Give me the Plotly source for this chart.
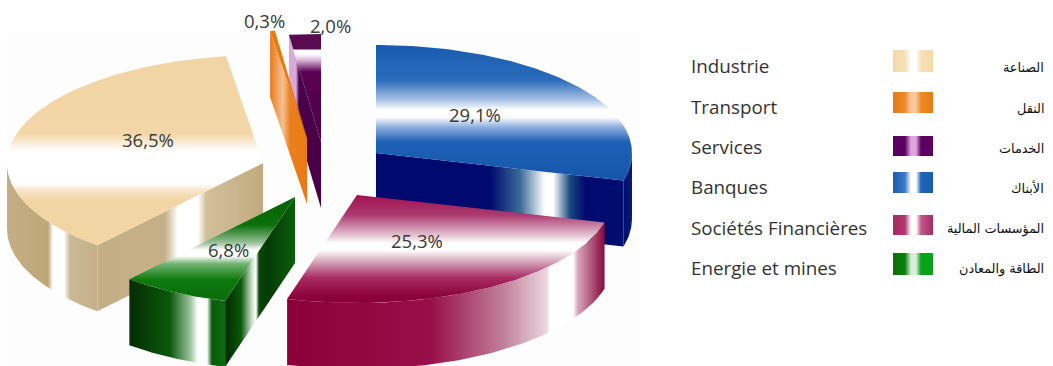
import numpy as np
import plotly.graph_objects as go

# ---- data -------------------------------------------------------------
categories = ["Industrie", "Transport", "Services", "Banques",
              "Sociétés Financières", "Energie et mines"]
categories_ar = ["الصناعة", "النقل", "الخدمات", "الأبناك",
                 "المؤسسات المالية", "الطاقة والمعادن"]
values = [36.5, 0.3, 2.0, 29.1, 25.3, 6.8]

# ---- geometry / style (not data) --------------------------------------
RX, RY, H = 256, 108, 66
FONT = "Open Sans, Noto Sans, sans-serif"
W, HT = 1053, 366
ROT = -(values[1] + values[2] + values[0]) * 3.6   # Industrie's start angle

apex = {"Industrie": (263, 163), "Transport": (307, 138), "Services": (321, 142),
        "Banques": (376, 153), "Sociétés Financières": (357, 195), "Energie et mines": (295, 197)}

TOP = {
    "Industrie": [(57, "#f2d5a5"), (134, "#f3d7a8"), (148, "#fdf8f0"), (153, "#ffffff"), (184, "#ffffff"),
                  (190, "#f7e6cc"), (200, "#f2d5a5"), (300, "#f2d5a5")],
    "Transport": [(30, "#e87a10"), (140, "#e87a10")],
    "Services": [(34, "#5a0a50"), (49, "#5a0a50"), (50, "#ffffff"), (54, "#ffffff"), (60, "#d9b8d9"),
                 (72, "#5a0050"), (142, "#4a0048")],
    "Banques": [(47, "#1a5db0"), (80, "#2a6bbb"), (100, "#a9c3e6"), (110, "#ffffff"), (117, "#ffffff"),
                (127, "#8fb0de"), (142, "#1d60b5"), (185, "#1555a8")],
    "Sociétés Financières": [(195, "#a3104f"), (215, "#ab3b70"), (236, "#e6c7d4"), (243, "#ffffff"), (250, "#ffffff"),
                             (258, "#e2c2d0"), (278, "#a82a62"), (298, "#8a0038")],
    "Energie et mines": [(197, "#056005"), (225, "#0a700a"), (243, "#9cc29c"), (250, "#ffffff"), (256, "#ffffff"),
                         (264, "#70b070"), (280, "#0d7a0d"), (300, "#0a6e0a")],
}
WALL = {
    "Industrie": [(5, "#c4ae85"), (48, "#bda676"), (53, "#ffffff"), (64, "#ffffff"), (70, "#c9b998"),
                  (100, "#c4ae85"), (165, "#c4b088"), (178, "#ffffff"), (198, "#ffffff"), (206, "#d2c09c"),
                  (265, "#c0a97d")],
    "Banques": [(376, "#000a6e"), (490, "#000a6e"), (520, "#3a6a96"), (540, "#d8e4ec"), (545, "#ffffff"),
                (553, "#ffffff"), (570, "#1a4a80"), (585, "#000a6e"), (625, "#000f70"), (640, "#0a2a80")],
    "Sociétés Financières": [(285, "#8a0038"), (430, "#980e48"), (503, "#c07f9a"), (547, "#ecd8e0"), (550, "#ffffff"),
                             (573, "#ffffff"), (578, "#d9a6bc"), (603, "#8b1040")],
    "Energie et mines": [(130, "#042d04"), (170, "#0a5a0a"), (190, "#9ac09a"), (198, "#ffffff"), (207, "#ffffff"),
                         (212, "#0a5a0a"), (227, "#0b6f0b")],
}
FACE = {
    "Industrie": WALL["Industrie"],
    "Transport": [(270, "#e87a10"), (277, "#f0a060"), (283, "#f5c090"), (290, "#ea8020"), (308, "#e87a10")],
    "Services": [(289, "#d9a9d9"), (296, "#d9a9d9"), (299, "#4a0048"), (322, "#4a0048")],
    "Banques": WALL["Banques"],
    "Energie et mines": [(227, "#042d04"), (241, "#0a5a0a"), (252, "#cfe2cf"), (256, "#ffffff"), (259, "#0a4a0a"),
                         (268, "#043a04"), (296, "#0b600b")],
}
SWATCH = {
    "Industrie": ["#f5d9a8", "#f7dfb8", "#ffffff", "#ffffff", "#f7dfb8", "#f5d9a8"],
    "Transport": ["#e87a10", "#ec8a28", "#f6c89c", "#f6c89c", "#ec8a28", "#e87a10"],
    "Services": ["#5a0060", "#5a0060", "#dca8dc", "#dca8dc", "#5a0060", "#5a0060"],
    "Banques": ["#1a5db0", "#3a7ac6", "#ffffff", "#ffffff", "#1d65bb", "#1a5db0"],
    "Sociétés Financières": ["#a82a62", "#b0386e", "#ffffff", "#ffffff", "#c05a88", "#a82a62"],
    "Energie et mines": ["#0a700a", "#0a800a", "#d8ecd8", "#d8ecd8", "#0aa01a", "#0aa01a"],
}
LABEL_POS = [(148, 139), (264, 20), (330, 25), (475, 114), (417, 240), (228, 249)]
ROW_Y = [66, 107, 147, 187, 228, 268]
SWATCH_Y = [(50, 72), (92, 113), (136, 156), (172, 193), (215, 235), (253, 275)]


def scale(stops):
    lo, hi = stops[0][0], stops[-1][0]
    return lo, hi, [[(p - lo) / (hi - lo), c] for p, c in stops]


def poly(xs, ys, stops, kind):
    lo, hi, cs = scale(stops)
    return go.Scatter(x=list(xs), y=list(ys), mode="lines", line=dict(width=0), fill="toself",
                      fillgradient=dict(type=kind, start=lo, stop=hi, colorscale=cs),
                      hoverinfo="skip", showlegend=False)


def pt(c, t):
    r = np.radians(t)
    return c[0] + RX * np.sin(r), c[1] - RY * np.cos(r)


fig = go.Figure()

# angular spans from the values (clockwise from 12 o'clock)
spans = {}
for i, n in enumerate(categories):
    a = (360 + ROT + sum(values[:i]) * 3.6) % 360
    spans[n] = (a, a + values[i] * 3.6)

for n in ["Services", "Transport", "Banques", "Sociétés Financières", "Industrie", "Energie et mines"]:
    c = apex[n]
    a, b = spans[n]
    # outer wall (the part turned to the viewer)
    lo, hi = max(a, 90), min(b, 270)
    if n in WALL and hi > lo:
        t = np.linspace(lo, hi, 80)
        x, y = pt(c, t)
        fig.add_trace(poly(np.r_[x, x[::-1], x[0]], np.r_[y, y[::-1] + H, y[0]], WALL[n], "horizontal"))
    # cut faces turned to the viewer
    for edge, normal in ((a, a - 90), (b, b + 90)):
        if n in FACE and np.cos(np.radians(normal)) < -1e-6:
            ex, ey = pt(c, edge)
            fig.add_trace(poly([c[0], ex, ex, c[0], c[0]], [c[1], ey, ey + H, c[1] + H, c[1]], FACE[n], "horizontal"))
    # top surface
    t = np.linspace(a, b, 120)
    x, y = pt(c, t)
    fig.add_trace(poly(np.r_[c[0], x, c[0]], np.r_[c[1], y, c[1]], TOP[n], "vertical"))

# legend swatches
for n, (y0, y1) in zip(categories, SWATCH_Y):
    cols = SWATCH[n]
    stops = list(zip([893, 905, 911, 916, 921, 933], cols))
    fig.add_trace(poly([893, 933, 933, 893, 893], [y0, y0, y1, y1, y0], stops, "horizontal"))

ann = []
for v, (x, y) in zip(values, LABEL_POS):
    ann.append(dict(x=x, y=y, text=f"{v:.1f}".replace(".", ",") + "%", showarrow=False,
                    font=dict(family=FONT, size=18.5, color="#3a3a3a")))
for name, ar, y in zip(categories, categories_ar, ROW_Y):
    ann.append(dict(x=689, y=y, text=name, xanchor="left", showarrow=False,
                    font=dict(family=FONT, size=18.8, color="#333333")))
    ann.append(dict(x=1046, y=y + 1, text=ar, xanchor="right", showarrow=False,
                    font=dict(family="DejaVu Sans", size=12.8, color="#111111")))

fig.update_layout(
    width=W, height=HT, autosize=False, margin=dict(l=0, r=0, t=0, b=0),
    paper_bgcolor="#ffffff", plot_bgcolor="#ffffff", showlegend=False, annotations=ann,
    xaxis=dict(range=[0, W], visible=False, fixedrange=True),
    yaxis=dict(range=[HT, 0], visible=False, fixedrange=True),
    shapes=[dict(type="rect", x0=7, x1=640, y0=33, y1=366, fillcolor="#fdfdfe",
                 line_width=0, layer="below")],
)
fig.write_html("out.html", config={"displayModeBar": False},
               post_script="document.body.style.margin='0';")
